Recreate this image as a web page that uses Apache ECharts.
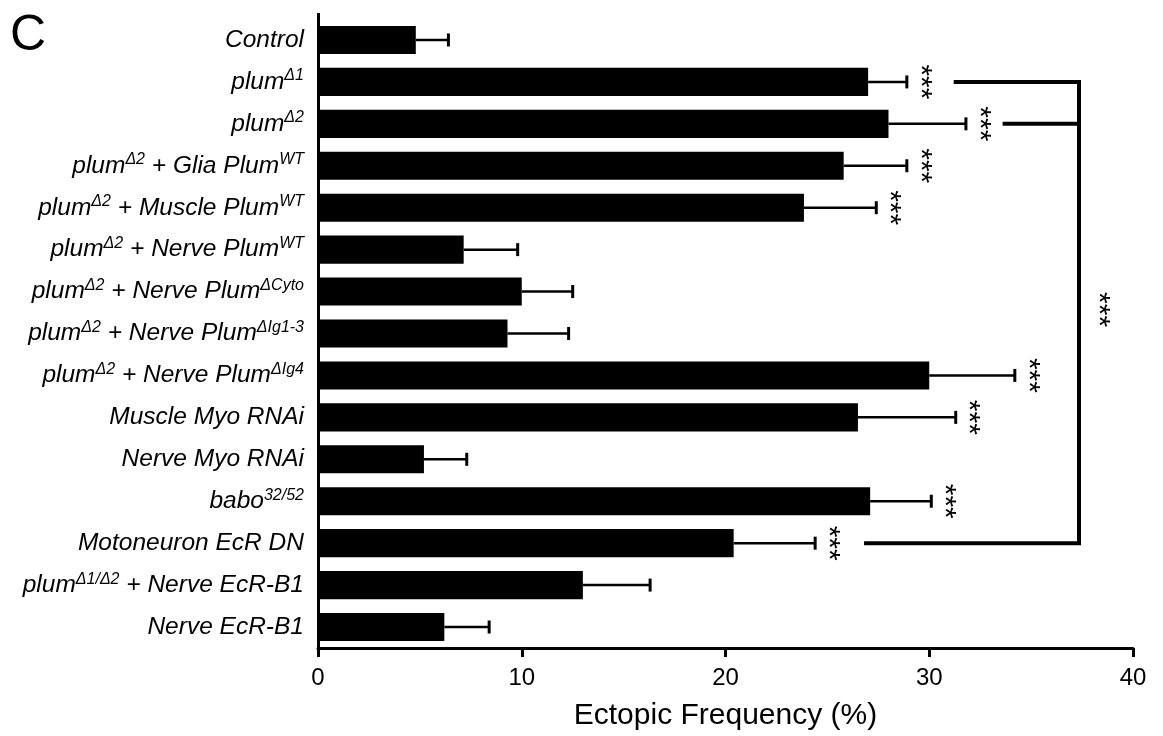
<!DOCTYPE html>
<html>
<head>
<meta charset="utf-8">
<script src="https://cdn.jsdelivr.net/npm/echarts@6/dist/echarts.min.js"></script>
<style>
html,body{margin:0;padding:0;background:#fff;}
#chart{width:1163px;height:736px;}
</style>
</head>
<body>
<div id="chart"></div>
<script>
// ---- data ----
const categories = [
  'Control',
  'plum^{Δ1}',
  'plum^{Δ2}',
  'plum^{Δ2} + Glia Plum^{WT}',
  'plum^{Δ2} + Muscle Plum^{WT}',
  'plum^{Δ2} + Nerve Plum^{WT}',
  'plum^{Δ2} + Nerve Plum^{ΔCyto}',
  'plum^{Δ2} + Nerve Plum^{ΔIg1-3}',
  'plum^{Δ2} + Nerve Plum^{ΔIg4}',
  'Muscle Myo RNAi',
  'Nerve Myo RNAi',
  'babo^{32/52}',
  'Motoneuron EcR DN',
  'plum^{Δ1/Δ2} + Nerve EcR-B1',
  'Nerve EcR-B1'
];
const means = [4.8, 27.0, 28.0, 25.8, 23.85, 7.15, 10.0, 9.3, 30.0, 26.5, 5.2, 27.1, 20.4, 13.0, 6.2];
const sems  = [1.6, 1.9, 3.8, 3.1, 3.55, 2.65, 2.5, 3.0, 4.2, 4.8, 2.1, 3.0, 4.0, 3.3, 2.2];
const significant = [0, 1, 1, 1, 1, 0, 0, 0, 1, 1, 0, 1, 1, 0, 0];
const xTicks = [0, 10, 20, 30, 40];
// bracket comparing plumΔ1 / plumΔ2 with Motoneuron EcR DN ([x value, category index])
const bracketMain = [[31.2, 1], [37.35, 1], [37.35, 12], [26.8, 12]];
const bracketBranch = [[33.6, 2], [37.35, 2]];
const bracketStars = [[38.55, 6.43]];
const starText = '***';

// ---- layout ----
const GRID_LEFT = 318, GRID_RIGHT = 30, GRID_TOP = 19, GRID_BOTTOM = 88;
const FONT = "'Liberation Sans', Arial, sans-serif";
const STAR_FONT = '30px ' + FONT;

function richLabel(s) {
  return '{i|' + s.replace(/\^\{([^}]*)\}/g, '}{s|$1}{i|') + '}';
}

const chart = echarts.init(document.getElementById('chart'), null, {renderer: 'canvas'});

const option = {
  backgroundColor: '#fff',
  animation: false,
  title: {
    text: 'C', left: 10, top: 11, padding: 0,
    textStyle: {fontSize: 50, fontWeight: 'normal', color: '#000', fontFamily: FONT}
  },
  grid: {left: GRID_LEFT, right: GRID_RIGHT, top: GRID_TOP, bottom: GRID_BOTTOM, containLabel: false},
  xAxis: {
    type: 'value', min: xTicks[0], max: xTicks[xTicks.length - 1], interval: 10,
    name: 'Ectopic Frequency (%)', nameLocation: 'middle', nameGap: 53,
    nameTextStyle: {fontSize: 30, color: '#000', fontFamily: FONT},
    axisLine: {show: true, lineStyle: {color: '#000', width: 3}},
    axisTick: {show: true, length: 9, lineStyle: {color: '#000', width: 3}},
    axisLabel: {fontSize: 24, color: '#000', margin: 18, fontFamily: FONT},
    splitLine: {show: false}
  },
  yAxis: {
    type: 'category', inverse: true, data: categories,
    axisLine: {show: true, lineStyle: {color: '#000', width: 3}},
    axisTick: {show: false},
    axisLabel: {
      margin: 14, color: '#000',
      formatter: v => richLabel(v),
      rich: {
        i: {fontSize: 24.5, fontStyle: 'italic', fontFamily: FONT, color: '#000', lineHeight: 28},
        s: {fontSize: 16, fontStyle: 'italic', fontFamily: FONT, color: '#000', lineHeight: 16, verticalAlign: 'top'}
      }
    },
    splitLine: {show: false}
  },
  graphic: [{
    type: 'line', z: 10,
    shape: {x1: GRID_LEFT + 0.5, y1: GRID_TOP - 6, x2: GRID_LEFT + 0.5, y2: GRID_TOP + 1},
    style: {stroke: '#000', lineWidth: 3}
  }],
  series: [
    {
      type: 'bar', data: means, barCategoryGap: '33%',
      itemStyle: {color: '#000'}, z: 2
    },
    {
      type: 'custom', z: 3,
      data: means.map((m, i) => [m, i, sems[i], significant[i]]),
      encode: {x: 0, y: 1},
      renderItem: function (params, api) {
        const m = api.value(0), i = api.value(1), e = api.value(2), sig = api.value(3);
        const p0 = api.coord([m, i]);
        const p1 = api.coord([m + e, i]);
        const children = [
          {type: 'line', shape: {x1: p0[0], y1: p0[1], x2: p1[0], y2: p1[1]}, style: {stroke: '#000', lineWidth: 2.5}},
          {type: 'line', shape: {x1: p1[0], y1: p1[1] - 6.5, x2: p1[0], y2: p1[1] + 6.5}, style: {stroke: '#000', lineWidth: 3}}
        ];
        if (sig) {
          children.push({
            type: 'text', x: p1[0] + 13, y: p1[1], rotation: -Math.PI / 2,
            style: {text: starText, fill: '#000', font: STAR_FONT, align: 'center', verticalAlign: 'middle'}
          });
        }
        return {type: 'group', children: children};
      }
    },
    {
      type: 'line', data: bracketMain, symbol: 'none', z: 4,
      lineStyle: {color: '#000', width: 4, join: 'miter'}
    },
    {
      type: 'line', data: bracketBranch, symbol: 'none', z: 4,
      lineStyle: {color: '#000', width: 4}
    },
    {
      type: 'custom', z: 4, data: bracketStars, encode: {x: 0, y: 1},
      renderItem: function (params, api) {
        const x = api.value(0), y = api.value(1);
        const i0 = Math.floor(y), f = y - i0;
        const a = api.coord([x, i0]), b = api.coord([x, i0 + 1]);
        return {
          type: 'text', x: a[0] - 5, y: a[1] + f * (b[1] - a[1]), rotation: -Math.PI / 2,
          style: {text: starText, fill: '#000', font: STAR_FONT, align: 'center', verticalAlign: 'middle'}
        };
      }
    }
  ]
};
chart.setOption(option);
</script>
</body>
</html>
